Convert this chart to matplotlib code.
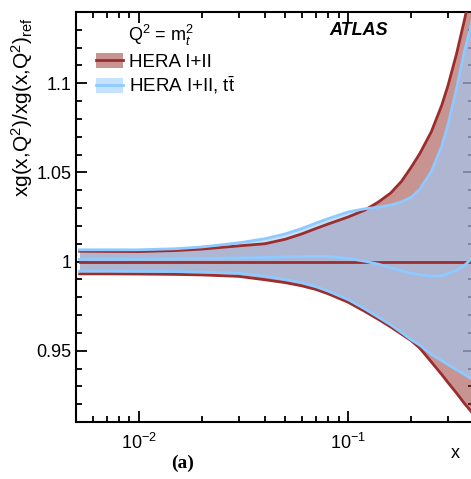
import numpy as np
import matplotlib
matplotlib.use('Agg')
import matplotlib.pyplot as plt
from matplotlib.patches import Patch
from matplotlib.lines import Line2D
from matplotlib.ticker import FixedLocator, FixedFormatter, LogLocator, NullFormatter

plt.rcParams['font.family'] = ['Liberation Sans', 'DejaVu Sans']
plt.rcParams['mathtext.fontset'] = 'custom'
plt.rcParams['mathtext.rm'] = 'Liberation Sans'
plt.rcParams['mathtext.it'] = 'Liberation Sans:italic'
plt.rcParams['mathtext.bf'] = 'Liberation Sans:bold'

# x grid of the read-off points
x = [0.0052, 0.007, 0.01, 0.015, 0.02, 0.03, 0.04, 0.05, 0.06, 0.07, 0.08, 0.1,
     0.12, 0.14, 0.16, 0.18, 0.2, 0.22, 0.25, 0.28, 0.3, 0.33, 0.36, 0.4]

# HERA I+II (reference)
hera_central = [1.0] * len(x)
hera_up = [1.0058, 1.0057, 1.0056, 1.0062, 1.0070, 1.0088, 1.0100, 1.0125, 1.0155, 1.0185,
           1.0210, 1.0250, 1.0288, 1.0335, 1.0385, 1.0450, 1.0528, 1.0605, 1.0728, 1.0875,
           1.0985, 1.1165, 1.1355, 1.1600]
hera_dn = [0.9931, 0.9931, 0.9930, 0.9928, 0.9925, 0.9917, 0.9898, 0.9882, 0.9864, 0.9844,
           0.9820, 0.9772, 0.9721, 0.9675, 0.9633, 0.9593, 0.9557, 0.9515, 0.9437, 0.9367,
           0.9322, 0.9262, 0.9204, 0.9140]

# HERA I+II + ttbar
tt_central = [1.0012, 1.0012, 1.0013, 1.0015, 1.0017, 1.0020, 1.0023, 1.0026, 1.0028, 1.0029,
              1.0029, 1.0018, 1.0002, 0.9985, 0.9965, 0.9948, 0.9935, 0.9926, 0.9918, 0.9920,
              0.9932, 0.9950, 0.9978, 1.0030]
tt_up = [1.0066, 1.0066, 1.0066, 1.0072, 1.0082, 1.0105, 1.0128, 1.0155, 1.0185, 1.0215,
         1.0240, 1.0278, 1.0296, 1.0305, 1.0317, 1.0335, 1.0360, 1.0405, 1.0505, 1.0645,
         1.0765, 1.0970, 1.1180, 1.1390]
tt_dn = [0.9946, 0.9946, 0.9945, 0.9944, 0.9941, 0.9934, 0.9918, 0.9900, 0.9882, 0.9860,
         0.9835, 0.9787, 0.9735, 0.9687, 0.9645, 0.9602, 0.9562, 0.9531, 0.9480, 0.9445,
         0.9422, 0.9393, 0.9367, 0.9333]

red_line = '#9b2d2d'
red_fill = (147/255, 43/255, 39/255)
blue_line = '#8ecaff'
blue_fill = (158/255, 205/255, 252/255)

fig = plt.figure(figsize=(4.71, 4.79), dpi=100)
ax = fig.add_axes([76/471, 57/479, 398/471, 410/479])

ax.fill_between(x, hera_dn, hera_up, color=red_fill, alpha=0.5, lw=0, zorder=1)
ax.fill_between(x, tt_dn, tt_up, color=blue_fill, alpha=0.6, lw=0, zorder=1.5)
for y in (hera_up, hera_dn, hera_central):
    ax.plot(x, y, color=red_line, lw=2, zorder=3)
for y in (tt_up, tt_dn, tt_central):
    ax.plot(x, y, color=blue_line, lw=2, zorder=4)

ax.set_xscale('log')
ax.set_xlim(0.005, 0.4)
ax.set_ylim(0.91, 1.14)
ax.set_axisbelow(True)

ax.xaxis.set_major_locator(LogLocator(base=10, numticks=10))
ax.xaxis.set_minor_locator(LogLocator(base=10, subs=np.arange(2, 10), numticks=20))
ax.xaxis.set_minor_formatter(NullFormatter())
ax.yaxis.set_major_locator(FixedLocator([0.95, 1.0, 1.05, 1.1]))
ax.yaxis.set_major_formatter(FixedFormatter(['0.95', '1', '1.05', '1.1']))
ax.yaxis.set_minor_locator(FixedLocator(np.arange(0.91, 1.141, 0.01)))

ax.tick_params(which='both', direction='in', top=True, right=True, width=1.3,
               labelsize=13, color='black')
ax.tick_params(which='major', length=8)
ax.tick_params(which='minor', length=4.5)
ax.tick_params(axis='x', pad=8)
ax.tick_params(axis='y', pad=3)
for s in ax.spines.values():
    s.set_linewidth(1.5)

fig.text(22/471, 1 - 17/479, r'xg(x,Q$^2$)/xg(x,Q$^2$)$_{\mathrm{ref}}$', rotation=90,
         ha='center', va='top', fontsize=15)
fig.text(455/471, 1 - 453/479, 'x', ha='center', va='center', fontsize=13)
fig.text(183/471, 1 - 463/479, '(a)', ha='center', va='center', fontsize=14,
         family='Liberation Serif', fontweight='bold')

ax.text(0.711, 0.955, 'ATLAS', transform=ax.transAxes, ha='center', va='center',
        fontsize=13, fontweight='bold', fontstyle='italic')

fig.text(128/471, 1 - 35/479, r'Q$^2$ = m$_t^2$', fontsize=13, va='center')

handles = [
    (Patch(facecolor=red_fill, alpha=0.5, lw=0), Line2D([], [], color=red_line, lw=2)),
    (Patch(facecolor=blue_fill, alpha=0.6, lw=0), Line2D([], [], color=blue_line, lw=2)),
]
labels = ['HERA I+II', r'HERA I+II, t$\bar{\mathrm{t}}$']
ax.legend(handles, labels, loc='upper left', bbox_to_anchor=(96/471, 1 - 53/479),
          bbox_transform=fig.transFigure, frameon=False, fontsize=13.5,
          handlelength=1.45, handleheight=0.85, handletextpad=0.3, labelspacing=0.2,
          borderpad=0, borderaxespad=0)

fig.savefig('out.png', dpi=100)
